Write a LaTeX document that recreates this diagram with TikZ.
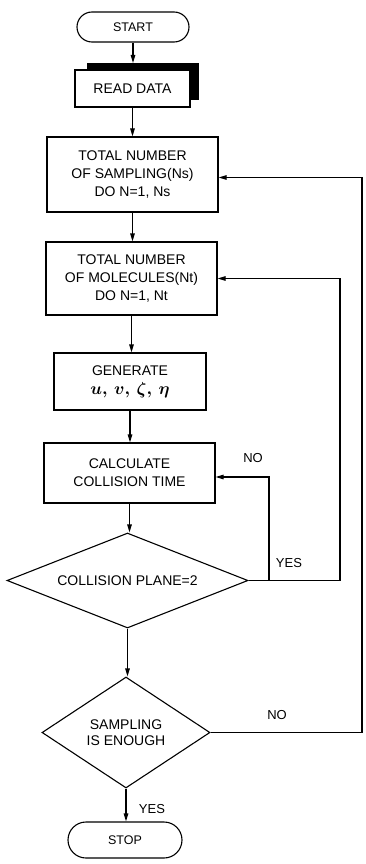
\documentclass[tikz,border=0pt]{standalone}
\usepackage{fontspec}
\setmainfont{Liberation Sans}
\usetikzlibrary{shapes.geometric,shapes.misc,arrows.meta,calc}
\begin{document}
\begin{tikzpicture}[x=1pt,y=-1pt, line width=1.1pt,
  every node/.style={font=\fontsize{14}{18}\selectfont, align=center, inner sep=0pt},
  boxnode/.style={draw, fill=white, rectangle},
  termnode/.style={draw, rounded rectangle, font=\fontsize{12.5}{15}\selectfont},
  decnode/.style={draw, diamond},
  arr/.style={-{Triangle[length=8pt,width=4.5pt]}},
  lbl/.style={font=\fontsize{13}{15}\selectfont}]
\useasboundingbox (0,0) rectangle (366,864);

% terminals and boxes
\node[termnode, minimum width=112pt, minimum height=30pt] (start) at (133,27) {START};
\fill (87,63) rectangle (199,100);
\node[boxnode, minimum width=115pt, minimum height=37pt] (read) at (132.5,88.5) {READ DATA};
\node[boxnode, minimum width=171pt, minimum height=75pt] (box1) at (132.5,174.5)
  {TOTAL NUMBER\\OF SAMPLING(Ns)\\DO N=1, Ns};
\node[boxnode, minimum width=171pt, minimum height=73pt] (box2) at (131.5,278.5)
  {TOTAL NUMBER\\OF MOLECULES(Nt)\\DO N=1, Nt};
\node[boxnode, minimum width=152pt, minimum height=57pt] (gen) at (130,381.5)
  {GENERATE\\[1pt]{\fontsize{19}{20}\selectfont\boldmath$u,\,v,\,\zeta,\,\eta$}};
\node[boxnode, minimum width=171pt, minimum height=60pt] (calc) at (129.5,473)
  {CALCULATE\\COLLISION TIME};
\node[decnode, shape aspect=2.5, minimum width=241pt, minimum height=95pt] (dia1) at (127.5,580.5)
  {COLLISION PLANE=2};
\node[decnode, shape aspect=1.5, minimum width=168pt, minimum height=111pt,
  font=\fontsize{14}{16.5}\selectfont] (dia2) at (126,732.5)
  {SAMPLING\\IS ENOUGH};
\node[termnode, minimum width=114pt, minimum height=36pt] (stop) at (125,840) {STOP};

% helper coordinates
\coordinate (shadowtop) at (133,63);
\coordinate (ry) at (340,0);
\coordinate (rn) at (269,0);
\coordinate (rr) at (362,0);

% main flow
\draw[arr] (start) -- (shadowtop);
\draw[arr] (read.south) -- (read.south |- box1.north);
\draw[arr] (box1.south) -- (box1.south |- box2.north);
\draw[arr] (box2.south) -- (box2.south |- gen.north);
\draw[arr] (gen.south) -- (gen.south |- calc.north);
\draw[arr] (calc.south) -- (calc.south |- dia1.north);
\draw[arr] (dia1.south) -- (dia1.south |- dia2.north);
\draw[arr] (dia2.south) -- (dia2.south |- stop.north);

% loops
\draw[arr] (dia1.east) -- (dia1.east -| ry) |- (box2.east);
\draw[arr] (dia1.east -| rn) |- ($(calc.east)+(0,4)$);
\draw[arr] (dia2.east) -- (dia2.east -| rr) |- ($(box1.east)+(0,3)$);

% labels
\node[lbl] (no1) at (253,458) {NO};
\node[lbl] (yes1) at (289,563) {YES};
\node[lbl] (no2) at (277,715) {NO};
\node[lbl] (yes2) at (152,809) {YES};
\end{tikzpicture}
\end{document}
